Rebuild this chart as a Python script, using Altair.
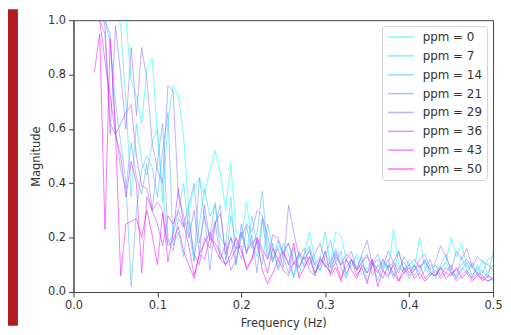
import altair as alt
import pandas as pd

freqs = [0.025, 0.03125, 0.0375, 0.04375, 0.05, 0.05625, 0.0625, 0.06875, 0.075, 0.08125,
         0.0875, 0.09375, 0.1, 0.10625, 0.1125, 0.11875, 0.125, 0.13125, 0.1375, 0.14375,
         0.15, 0.15625, 0.1625, 0.16875, 0.175, 0.18125, 0.1875, 0.19375, 0.2, 0.20625,
         0.2125, 0.21875, 0.225, 0.23125, 0.2375, 0.24375, 0.25, 0.25625, 0.2625, 0.26875,
         0.275, 0.28125, 0.2875, 0.29375, 0.3, 0.30625, 0.3125, 0.31875, 0.325, 0.33125,
         0.3375, 0.34375, 0.35, 0.35625, 0.3625, 0.36875, 0.375, 0.38125, 0.3875, 0.39375,
         0.4, 0.40625, 0.4125, 0.41875, 0.425, 0.43125, 0.4375, 0.44375, 0.45, 0.45625,
         0.4625, 0.46875, 0.475, 0.48125, 0.4875, 0.49375, 0.5]

ppm_levels = [0, 7, 14, 21, 29, 36, 43, 50]

mag_0 = [1.30, 1.25, 1.20, 1.15, 1.10, 1.05, 1.00, 0.78, 0.72, 0.62,
         0.82, 0.86, 0.58, 0.33, 0.62, 0.76, 0.72, 0.57, 0.30, 0.38,
         0.42, 0.36, 0.45, 0.52, 0.44, 0.30, 0.47, 0.22, 0.20, 0.33,
         0.18, 0.13, 0.27, 0.18, 0.11, 0.17, 0.15, 0.18, 0.12, 0.06,
         0.14, 0.22, 0.12, 0.08, 0.15, 0.10, 0.22, 0.21, 0.12, 0.09,
         0.14, 0.11, 0.07, 0.10, 0.09, 0.12, 0.08, 0.23, 0.10, 0.07,
         0.12, 0.09, 0.20, 0.09, 0.06, 0.10, 0.08, 0.11, 0.20, 0.13,
         0.18, 0.09, 0.10, 0.07, 0.12, 0.06, 0.04]
mag_7 = [1.30, 1.20, 1.10, 1.00, 1.05, 0.98, 0.70, 0.35, 0.62, 0.48,
         0.43, 0.55, 0.60, 0.38, 0.18, 0.21, 0.30, 0.40, 0.22, 0.12,
         0.25, 0.38, 0.28, 0.32, 0.20, 0.17, 0.35, 0.10, 0.22, 0.14,
         0.28, 0.17, 0.10, 0.25, 0.16, 0.09, 0.18, 0.14, 0.05, 0.13,
         0.10, 0.16, 0.07, 0.12, 0.22, 0.09, 0.16, 0.12, 0.07, 0.10,
         0.13, 0.06, 0.09, 0.12, 0.04, 0.11, 0.08, 0.06, 0.15, 0.08,
         0.05, 0.10, 0.07, 0.12, 0.08, 0.05, 0.09, 0.11, 0.07, 0.06,
         0.13, 0.08, 0.05, 0.10, 0.07, 0.12, 0.13]
mag_14 = [1.20, 1.10, 1.00, 0.92, 0.70, 0.55, 0.40, 0.02, 0.30, 0.45,
          0.50, 0.46, 0.35, 0.52, 0.66, 0.17, 0.22, 0.13, 0.30, 0.11,
          0.42, 0.27, 0.20, 0.33, 0.15, 0.10, 0.28, 0.18, 0.12, 0.24,
          0.16, 0.22, 0.37, 0.15, 0.11, 0.19, 0.13, 0.07, 0.16, 0.09,
          0.14, 0.17, 0.10, 0.08, 0.13, 0.19, 0.11, 0.15, 0.06, 0.12,
          0.09, 0.13, 0.04, 0.10, 0.14, 0.08, 0.05, 0.11, 0.09, 0.07,
          0.10, 0.06, 0.09, 0.12, 0.07, 0.06, 0.10, 0.14, 0.08, 0.05,
          0.09, 0.07, 0.11, 0.06, 0.08, 0.05, 0.15]
mag_21 = [1.25, 1.15, 1.00, 0.95, 0.60, 0.45, 0.38, 0.55, 0.42, 0.36,
          0.47, 0.30, 0.48, 0.62, 0.20, 0.15, 0.27, 0.24, 0.32, 0.40,
          0.18, 0.28, 0.08, 0.25, 0.32, 0.12, 0.20, 0.10, 0.25, 0.14,
          0.21, 0.07, 0.27, 0.12, 0.18, 0.08, 0.14, 0.11, 0.06, 0.15,
          0.09, 0.13, 0.06, 0.12, 0.10, 0.07, 0.14, 0.09, 0.05, 0.12,
          0.08, 0.11, 0.14, 0.06, 0.10, 0.08, 0.12, 0.05, 0.09, 0.11,
          0.07, 0.10, 0.05, 0.08, 0.12, 0.06, 0.09, 0.07, 0.10, 0.05,
          0.08, 0.11, 0.06, 0.09, 0.05, 0.07, 0.10]
mag_29 = [1.10, 1.00, 0.95, 0.58, 0.98, 0.80, 0.60, 0.90, 0.65, 0.90,
          0.78, 0.55, 0.45, 0.40, 0.76, 0.74, 0.35, 0.28, 0.20, 0.30,
          0.14, 0.32, 0.19, 0.26, 0.12, 0.18, 0.08, 0.12, 0.20, 0.25,
          0.22, 0.30, 0.28, 0.21, 0.12, 0.16, 0.09, 0.32, 0.22, 0.13,
          0.16, 0.10, 0.14, 0.18, 0.11, 0.09, 0.13, 0.10, 0.12, 0.15,
          0.08, 0.14, 0.19, 0.10, 0.12, 0.09, 0.15, 0.11, 0.07, 0.13,
          0.10, 0.08, 0.12, 0.14, 0.09, 0.11, 0.17, 0.13, 0.08, 0.15,
          0.12, 0.16, 0.09, 0.13, 0.11, 0.10, 0.08]
mag_36 = [1.10, 1.05, 0.98, 0.62, 0.58, 0.62, 0.66, 0.69, 0.50, 0.39,
          0.38, 0.30, 0.25, 0.17, 0.28, 0.25, 0.30, 0.24, 0.26, 0.14,
          0.10, 0.20, 0.16, 0.25, 0.29, 0.14, 0.20, 0.16, 0.22, 0.15,
          0.18, 0.20, 0.16, 0.12, 0.21, 0.20, 0.14, 0.18, 0.10, 0.14,
          0.12, 0.15, 0.10, 0.13, 0.09, 0.11, 0.15, 0.10, 0.14, 0.12,
          0.08, 0.11, 0.13, 0.10, 0.07, 0.12, 0.09, 0.11, 0.15, 0.08,
          0.10, 0.12, 0.09, 0.11, 0.08, 0.10, 0.06, 0.09, 0.07, 0.08,
          0.10, 0.12, 0.09, 0.07, 0.06, 0.04, 0.05]
mag_43 = [1.15, 1.00, 0.85, 0.72, 0.58, 0.50, 0.35, 0.48, 0.40, 0.07,
          0.35, 0.30, 0.33, 0.30, 0.11, 0.22, 0.38, 0.25, 0.17, 0.06,
          0.14, 0.12, 0.20, 0.18, 0.14, 0.10, 0.12, 0.16, 0.17, 0.08,
          0.12, 0.20, 0.14, 0.07, 0.16, 0.12, 0.08, 0.06, 0.11, 0.09,
          0.13, 0.08, 0.06, 0.12, 0.10, 0.07, 0.11, 0.05, 0.09, 0.12,
          0.06, 0.09, 0.03, 0.11, 0.08, 0.05, 0.10, 0.07, 0.04, 0.09,
          0.06, 0.08, 0.10, 0.05, 0.07, 0.06, 0.09, 0.05, 0.07, 0.04,
          0.06, 0.08, 0.05, 0.07, 0.04, 0.06, 0.05]
mag_50 = [0.81, 0.95, 0.23, 0.93, 0.60, 0.06, 0.25, 0.26, 0.27, 0.20,
          0.30, 0.21, 0.10, 0.29, 0.17, 0.19, 0.24, 0.15, 0.10, 0.05,
          0.14, 0.18, 0.22, 0.16, 0.12, 0.10, 0.14, 0.20, 0.15, 0.09,
          0.12, 0.19, 0.08, 0.03, 0.07, 0.12, 0.15, 0.10, 0.18, 0.05,
          0.09, 0.13, 0.07, 0.10, 0.15, 0.06, 0.09, 0.04, 0.12, 0.08,
          0.05, 0.10, 0.07, 0.12, 0.02, 0.08, 0.06, 0.10, 0.04, 0.07,
          0.09, 0.05, 0.07, 0.04, 0.06, 0.08, 0.05, 0.07, 0.06, 0.09,
          0.05, 0.07, 0.04, 0.06, 0.05, 0.04, 0.05]

series = [mag_0, mag_7, mag_14, mag_21, mag_29, mag_36, mag_43, mag_50]
colors = ["#00ffff", "#24dbff", "#49b6ff", "#6d92ff", "#926dff", "#b649ff", "#db24ff", "#ff00ff"]
x_ticks = [0.0, 0.1, 0.2, 0.3, 0.4, 0.5]
y_ticks = [0.0, 0.2, 0.4, 0.6, 0.8, 1.0]

rows = []
for ppm, vals in zip(ppm_levels, series):
    for f, v in zip(freqs, vals):
        rows.append({"freq": f, "mag": v, "label": f"ppm = {ppm}"})
df = pd.DataFrame(rows)
labels = [f"ppm = {p}" for p in ppm_levels]

FONT = "DejaVu Sans"

lines = alt.Chart(df).mark_line(clip=True, strokeWidth=1, opacity=0.55).encode(
    x=alt.X("freq:Q", title="Frequency (Hz)",
            scale=alt.Scale(domain=[0, 0.5], nice=False, zero=False),
            axis=alt.Axis(values=x_ticks, format=".1f", titlePadding=6, labelFlush=False)),
    y=alt.Y("mag:Q", title="Magnitude",
            scale=alt.Scale(domain=[0, 1], nice=False),
            axis=alt.Axis(values=y_ticks, format=".1f", titlePadding=6, labelFlush=False)),
    color=alt.Color("label:N", sort=labels,
                    scale=alt.Scale(domain=labels, range=colors),
                    legend=alt.Legend(title=None, orient="top-right", offset=6)),
    order=alt.Order("freq:Q"),
)

red_strip = alt.Chart(pd.DataFrame({"a": [0]})).mark_rect(color="#b01c21").encode(
    x=alt.value(-66), x2=alt.value(-56), y=alt.value(-11), y2=alt.value(308)
)

chart = alt.layer(red_strip, lines).properties(
    width=423, height=274, padding=0, background="white"
).configure_view(
    stroke="#444444", strokeWidth=1
).configure_axis(
    grid=False, domainColor="#444444", tickColor="#444444", tickSize=5,
    labelFont=FONT, labelFontSize=11.5, labelColor="#333333", labelPadding=3,
    titleFont=FONT, titleFontSize=11.5, titleFontWeight="normal", titleColor="#333333",
    zindex=1
).configure_legend(
    labelFont=FONT, labelFontSize=12, labelColor="#333333",
    symbolType="stroke", symbolSize=676, symbolStrokeWidth=1.5, symbolOpacity=0.55,
    labelOffset=8, rowPadding=7, padding=5, clipHeight=12,
    strokeColor="#d0d0d0", fillColor="rgba(255,255,255,0.8)", cornerRadius=3,
    zindex=1
)

chart.save("out.html", embed_options={"renderer": "svg", "actions": False})
